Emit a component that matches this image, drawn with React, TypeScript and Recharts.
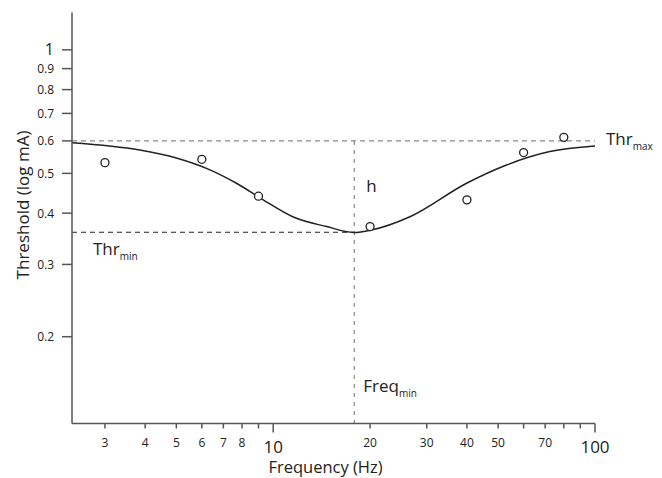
import * as React from "react"
import {
  ComposedChart,
  Line,
  Scatter,
  XAxis,
  YAxis,
  ReferenceLine,
  Label,
} from "recharts"

// measured threshold points (Hz, mA)
const measured = [
  { f: 3, thr: 0.531 },
  { f: 6, thr: 0.541 },
  { f: 9, thr: 0.44 },
  { f: 20, thr: 0.371 },
  { f: 40, thr: 0.431 },
  { f: 60, thr: 0.562 },
  { f: 80, thr: 0.612 },
]

// fitted curve
const fitFreq = [2.37, 3.85, 5, 6.36, 7.69, 9.31, 11.5, 14.66, 17.8, 20.2, 26.6, 39.9, 53.1, 72.4, 100]
const fitThr = [0.594, 0.57, 0.545, 0.51, 0.473, 0.431, 0.392, 0.371, 0.359, 0.364, 0.392, 0.473, 0.524, 0.565, 0.583]
const fit = fitFreq.map((f, i) => ({ f, thr: fitThr[i] }))

const X_DOMAIN = [2.37, 100]
const Y_DOMAIN = [0.1229, 1.233]
const X_TICKS = [3, 4, 5, 6, 7, 8, 9, 10, 20, 30, 40, 50, 60, 70, 80, 90, 100]
const X_LABELS = [3, 4, 5, 6, 7, 8, 10, 20, 30, 40, 50, 70, 100]
const Y_TICKS = [0.2, 0.3, 0.4, 0.5, 0.6, 0.7, 0.8, 0.9, 1]

const THR_MAX = 0.6
const THR_MIN = 0.3594
const FREQ_MIN = 17.86

const FONT = "'Open Sans', sans-serif"
const AXIS = "#555"
const INK = "#222"

function XTick(props: any) {
  const { x, y, payload } = props
  const v = payload.value
  const big = v === 10 || v === 100
  return (
    <g>
      <line x1={x} y1={y} x2={x} y2={y + (big ? 9 : 5)} stroke={AXIS} strokeWidth={1.5} />
      {X_LABELS.includes(v) && (
        <text x={x} y={y + (big ? 29 : 23.5)} textAnchor="middle" fontSize={big ? 17 : 12} fill={INK} fontFamily={FONT}>
          {v}
        </text>
      )}
    </g>
  )
}

function YTick(props: any) {
  const { x, y, payload } = props
  const v = payload.value
  const big = v === 1
  return (
    <g>
      <line x1={x - 10} y1={y} x2={x} y2={y} stroke={AXIS} strokeWidth={1.5} />
      <text x={x - 18} y={y + (big ? 5.5 : 4.5)} textAnchor="end" fontSize={big ? 16 : 12} fill={INK} fontFamily={FONT}>
        {v}
      </text>
    </g>
  )
}

function SubLabel({ x, y, main, sub }: { x: number; y: number; main: string; sub?: string }) {
  return (
    <text x={x} y={y} fontSize={17} fill={INK} fontFamily={FONT}>
      {main}
      {sub && (
        <tspan fontSize={10} dy={5}>
          {sub}
        </tspan>
      )}
    </text>
  )
}

export default function App() {
  return (
    <div style={{ position: "absolute", left: 0, top: 0 }}>
      <ComposedChart width={662} height={478} margin={{ top: 12.5, right: 67, bottom: 0, left: 0 }}>
        <XAxis
          type="number"
          dataKey="f"
          scale="log"
          domain={X_DOMAIN}
          allowDataOverflow
          ticks={X_TICKS}
          interval={0}
          tickSize={0}
          tickMargin={0}
          tickLine={false}
          tick={(p: any) => <XTick {...p} />}
          height={54.5}
          stroke={AXIS}
          strokeWidth={1.5}
        >
          <Label
            content={({ viewBox }: any) => (
              <text x={viewBox.x + viewBox.width / 2 - 8} y={viewBox.y + 49} textAnchor="middle" fontSize={16.5} fill={INK} fontFamily={FONT}>
                Frequency (Hz)
              </text>
            )}
          />
        </XAxis>
        <YAxis
          type="number"
          dataKey="thr"
          scale="log"
          domain={Y_DOMAIN}
          allowDataOverflow
          ticks={Y_TICKS}
          interval={0}
          tickSize={0}
          tickMargin={0}
          tickLine={false}
          tick={(p: any) => <YTick {...p} />}
          width={72}
          stroke={AXIS}
          strokeWidth={1.5}
        >
          <Label
            content={({ viewBox }: any) => {
              const cx = viewBox.x + 22
              const cy = viewBox.y + viewBox.height / 2 - 13
              return (
                <text x={cx} y={cy} transform={`rotate(-90 ${cx} ${cy})`} textAnchor="middle" dominantBaseline="central" fontSize={17} fill={INK} fontFamily={FONT}>
                  Threshold (log mA)
                </text>
              )
            }}
          />
        </YAxis>

        <ReferenceLine
          y={THR_MAX}
          stroke="#888"
          strokeWidth={1.2}
          strokeDasharray="5 4"
          label={({ viewBox }: any) => <SubLabel x={viewBox.x + viewBox.width + 11} y={viewBox.y + 4} main="Thr" sub="max" />}
        />
        <ReferenceLine
          segment={[
            { x: X_DOMAIN[0], y: THR_MIN },
            { x: FREQ_MIN, y: THR_MIN },
          ]}
          stroke={INK}
          strokeWidth={1.2}
          strokeDasharray="5 4"
          label={({ viewBox }: any) => <SubLabel x={viewBox.x + 21} y={viewBox.y + 23} main="Thr" sub="min" />}
        />
        <ReferenceLine
          segment={[
            { x: FREQ_MIN, y: THR_MAX },
            { x: FREQ_MIN, y: Y_DOMAIN[0] },
          ]}
          stroke="#888"
          strokeWidth={1.2}
          strokeDasharray="4 5"
          label={({ viewBox }: any) => (
            <g>
              <SubLabel x={viewBox.x + 12} y={viewBox.y + 51} main="h" />
              <SubLabel x={viewBox.x + 9} y={viewBox.y + viewBox.height - 32} main="Freq" sub="min" />
            </g>
          )}
        />

        <Line
          data={fit}
          dataKey="thr"
          type="monotone"
          stroke={INK}
          strokeWidth={1.5}
          dot={false}
          activeDot={false}
          isAnimationActive={false}
        />
        <Scatter
          data={measured}
          dataKey="thr"
          isAnimationActive={false}
          shape={(p: any) => <circle cx={p.cx} cy={p.cy} r={4} fill="#fff" stroke={INK} strokeWidth={1.3} />}
        />
      </ComposedChart>
    </div>
  )
}
